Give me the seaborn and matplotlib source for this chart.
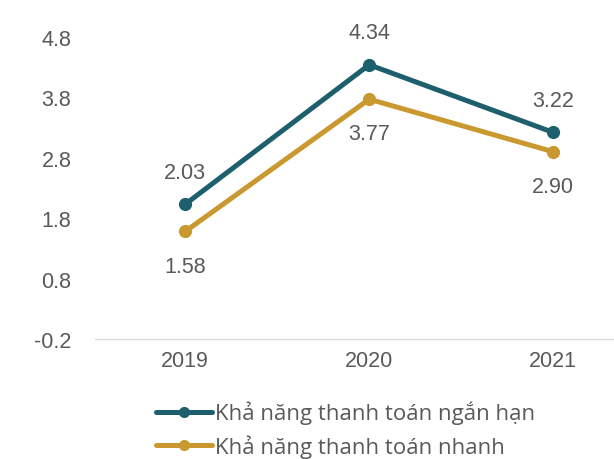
import seaborn as sns
import matplotlib.pyplot as plt
import pandas as pd

# --- data ---
years = [2019, 2020, 2021]
ngan_han = [2.03, 4.34, 3.22]
nhanh = [1.58, 3.77, 2.90]
series_names = ["Khả năng thanh toán ngắn hạn", "Khả năng thanh toán nhanh"]
y_ticks = [-0.2, 0.8, 1.8, 2.8, 3.8, 4.8]

df = pd.DataFrame({
    "year": years * 2,
    "value": ngan_han + nhanh,
    "series": [series_names[0]] * 3 + [series_names[1]] * 3,
})

# --- styling ---
sns.set_style("white")
plt.rcParams["font.family"] = ["Liberation Sans", "DejaVu Sans"]
text_color = "#595959"
num_size = 15.5
colors = {series_names[0]: "#1d5f6c", series_names[1]: "#c9982e"}

fig = plt.figure(figsize=(6.14, 4.6), dpi=100)
ax = fig.add_axes([95 / 614, 1 - 340 / 460, 1 - 95 / 614, (340 - 38) / 460])

sns.lineplot(
    data=df, x="year", y="value", hue="series", palette=colors,
    marker="o", markersize=9.5, markeredgewidth=0, linewidth=3.6, ax=ax,
)

# --- value labels ---
for x, v in zip(years, ngan_han):
    ax.annotate(f"{v:.2f}", (x, v), xytext=(0, 23), textcoords="offset points",
                ha="center", va="center", fontsize=num_size, color=text_color)
for x, v in zip(years, nhanh):
    ax.annotate(f"{v:.2f}", (x, v), xytext=(0, -25), textcoords="offset points",
                ha="center", va="center", fontsize=num_size, color=text_color)

# --- axes ---
ax.set_xlim(2018.51, 2021.33)
ax.set_ylim(-0.2, 4.8)
ax.set_xticks(years)
ax.set_xticklabels([str(y) for y in years])
ax.set_yticks(y_ticks)
ax.set_yticklabels([f"{t:.1f}" for t in y_ticks])
ax.tick_params(axis="both", length=0, labelsize=num_size, labelcolor=text_color)
ax.tick_params(axis="x", pad=8)
ax.tick_params(axis="y", pad=17)
ax.set_xlabel("")
ax.set_ylabel("")
for s in ["top", "right", "left"]:
    ax.spines[s].set_visible(False)
ax.spines["bottom"].set_color("#d9d9d9")
ax.spines["bottom"].set_linewidth(1)
ax.patch.set_alpha(0)
for line in ax.lines:
    line.set_clip_on(False)

# --- legend ---
handles, labels = ax.get_legend_handles_labels()
ax.get_legend().remove()
leg = fig.legend(
    handles, labels, loc="upper left", bbox_to_anchor=(156 / 614, 1 - 402 / 460),
    frameon=False, prop={"family": ["Open Sans", "DejaVu Sans"], "size": 16},
    handlelength=2.5, handletextpad=0.15, labelspacing=0.45,
    borderpad=0, borderaxespad=0,
)
for t in leg.get_texts():
    t.set_color(text_color)
for h in leg.legend_handles:
    h.set_markersize(8)

fig.savefig("out.png", dpi=100)
plt.close(fig)
